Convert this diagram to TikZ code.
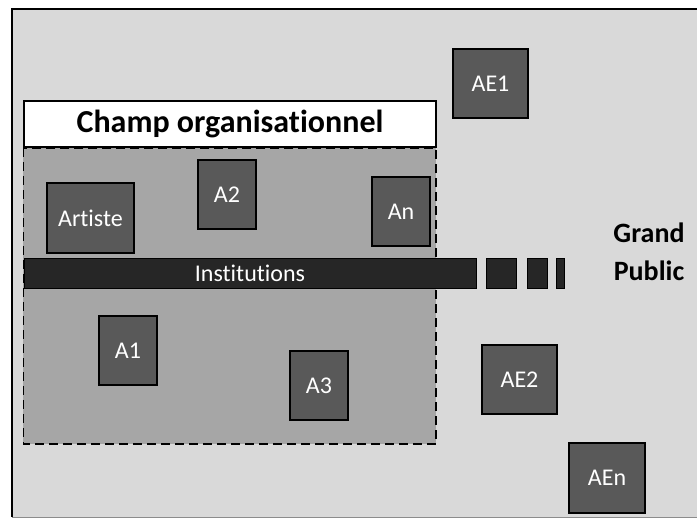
\documentclass[tikz,border=0pt]{standalone}
\usepackage{fontspec}
\setmainfont{Carlito}[Ligatures=NoCommon]
\usepackage{tikz}
\usetikzlibrary{positioning}

\definecolor{fondgris}{HTML}{D9D9D9}
\definecolor{champgris}{HTML}{A6A6A6}
\definecolor{acteurgris}{HTML}{595959}
\definecolor{barrenoire}{HTML}{262626}

\tikzset{
    acteur/.style={draw=black, line width=1.5pt, fill=acteurgris, text=white,
        inner sep=0pt, font=\fontsize{24}{29}\selectfont},
    barre/.style={draw=black, line width=1pt, fill=barrenoire, inner sep=0pt}
}

\begin{document}
\begin{tikzpicture}[x=1pt, y=-1pt]
    \useasboundingbox (0, 0) rectangle (698, 519); % taille de l'image
    % fond
    \fill[fondgris] (12, 9) rectangle (697, 517);
    \draw[black!45, line width=1pt] (12, 517) -- (697, 517);
    \draw[black, line width=2pt] (12, 517) -- (12, 9) -- (697, 9);
    % champ organisationnel
    \node[draw=black, line width=1.5pt, fill=white, inner sep=0pt, minimum width=412pt,
        minimum height=46pt, font=\bfseries\fontsize{32}{38}\selectfont]
        (titre) at (230, 124) {Champ organisationnel};
    \draw[dashed, dash pattern=on 9pt off 5pt, line width=1.5pt, fill=champgris]
        (titre.south west) rectangle (436, 444);
    % institutions
    \node[barre, minimum width=452pt, minimum height=30pt, text=white,
        font=\fontsize{24}{29}\selectfont] (inst) at (250, 273) {Institutions};
    \node[barre, minimum width=30pt, minimum height=30pt] (d1) at (501, 273) {};
    \node[barre, minimum width=20pt, minimum height=30pt] (d2) at (537, 273) {};
    \node[barre, minimum width=8pt, minimum height=30pt] (d3) at (560, 273) {};
    % acteurs du champ
    \node[acteur, minimum width=87pt, minimum height=70pt] (artiste) at (90.5, 218) {Artiste};
    \node[acteur, minimum width=58pt, minimum height=69pt] (a2) at (227, 194.5) {A2};
    \node[acteur, minimum width=58pt, minimum height=69pt] (an) at (401, 211.5) {An};
    \node[acteur, minimum width=58pt, minimum height=69pt] (a1) at (128, 350.5) {A1};
    \node[acteur, minimum width=58pt, minimum height=69pt] (a3) at (319, 385.5) {A3};
    % acteurs externes
    \node[acteur, minimum width=75pt, minimum height=69pt] (ae1) at (490.5, 83.5) {AE1};
    \node[acteur, minimum width=75pt, minimum height=69pt] (ae2) at (519.5, 379.5) {AE2};
    \node[acteur, minimum width=76pt, minimum height=70pt] (aen) at (607, 478) {AEn};
    % grand public
    \node[align=center, inner sep=0pt, font=\bfseries\fontsize{28}{38}\selectfont]
        (public) at (649, 252) {Grand\\Public};
\end{tikzpicture}
\end{document}
